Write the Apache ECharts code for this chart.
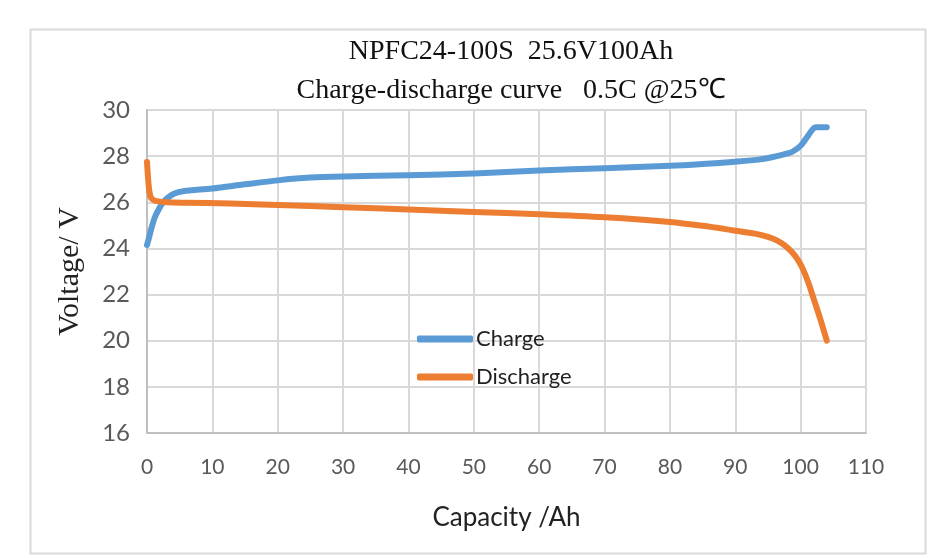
<!DOCTYPE html>
<html>
<head>
<meta charset="utf-8">
<script src="https://cdn.jsdelivr.net/npm/echarts@6/dist/echarts.min.js"></script>
<style>html,body{margin:0;padding:0;background:#fff;}#c{width:941px;height:558px;}</style>
</head>
<body>
<div id="c"></div>
<script>
const titleLines = ["NPFC24-100S  25.6V100Ah", "Charge-discharge curve   0.5C @25\u2103"];
const xName = "Capacity /Ah";
const yName = "Voltage/ V";
const seriesNames = ["Charge", "Discharge"];

const chargeCap = [0, 0.3, 0.7, 1.2, 1.8, 2.4, 3.2, 4.2, 5.5, 10, 15, 20, 25, 30, 40, 50, 60, 70, 80, 85, 90, 93.8, 96, 98, 98.8, 100, 101, 101.8, 102.3, 103, 104];
const chargeV   = [24.15, 24.45, 24.9, 25.35, 25.7, 25.97, 26.2, 26.38, 26.48, 26.6, 26.78, 26.95, 27.07, 27.12, 27.17, 27.25, 27.38, 27.48, 27.58, 27.66, 27.76, 27.86, 27.98, 28.12, 28.2, 28.45, 28.83, 29.15, 29.25, 29.25, 29.25];

const dischargeCap = [0, 0.15, 0.35, 0.6, 1.0, 1.5, 3, 6, 12.7, 20, 30, 40, 50, 60, 70, 80, 85, 90, 93, 95, 96.5, 97.7, 98.8, 99.7, 100.4, 101.2, 101.9, 103, 104];
const dischargeV   = [27.75, 27.1, 26.5, 26.2, 26.1, 26.05, 26.0, 25.98, 25.95, 25.88, 25.79, 25.69, 25.58, 25.48, 25.35, 25.15, 24.98, 24.77, 24.64, 24.5, 24.33, 24.1, 23.8, 23.45, 23.07, 22.5, 21.9, 20.95, 20.0];

const xTicks = {min: 0, max: 110, interval: 10};
const yTicks = {min: 16, max: 30, interval: 2};

function pairs(xs, ys) { return xs.map((x, i) => [x, ys[i]]); }

const chart = echarts.init(document.getElementById('c'), null, {renderer: 'canvas'});
const labelFont = 'Lato';
chart.setOption({
  animation: false,
  backgroundColor: '#fff',
  graphic: [{
    type: 'rect', left: 28, top: 27, shape: {width: 895, height: 524},
    style: {fill: 'none', stroke: '#d9d9d9', lineWidth: 2}, silent: true, z: -1
  }],
  title: {
    text: titleLines.join('\n'),
    left: 506, top: 27, textAlign: 'center',
    textStyle: {fontFamily: 'Liberation Serif', fontSize: 28, fontWeight: 'normal', color: '#111', lineHeight: 39}
  },
  grid: {left: 147, right: 75, top: 110, bottom: 125, containLabel: false},
  legend: {
    orient: 'vertical', left: 412, top: 323, itemGap: 16,
    icon: 'roundRect', itemWidth: 56, itemHeight: 7,
    textStyle: {fontFamily: labelFont, fontSize: 22, color: '#222', padding: [0, 0, 0, -2]},
    data: seriesNames
  },
  xAxis: {
    type: 'value', min: xTicks.min, max: xTicks.max, interval: xTicks.interval,
    name: xName, nameLocation: 'middle', nameGap: 72,
    nameTextStyle: {fontFamily: labelFont, fontSize: 26, color: '#222'},
    axisLine: {lineStyle: {color: '#bfbfbf', width: 2}},
    axisTick: {show: false},
    axisLabel: {fontFamily: labelFont, fontSize: 21, color: '#595959', margin: 24},
    splitLine: {show: true, lineStyle: {color: '#d9d9d9', width: 2}}
  },
  yAxis: {
    type: 'value', min: yTicks.min, max: yTicks.max, interval: yTicks.interval,
    name: yName, nameLocation: 'middle', nameGap: 62,
    nameTextStyle: {fontFamily: 'Liberation Serif', fontSize: 30, color: '#222'},
    axisLine: {show: true, lineStyle: {color: '#bfbfbf', width: 2}},
    axisTick: {show: false},
    axisLabel: {fontFamily: labelFont, fontSize: 24, color: '#595959', margin: 17},
    splitLine: {show: true, lineStyle: {color: '#d9d9d9', width: 2}}
  },
  series: [
    {name: seriesNames[0], type: 'line', data: pairs(chargeCap, chargeV), smooth: 0.3, showSymbol: false,
     symbol: 'none', color: '#5b9bd5', lineStyle: {width: 6, cap: 'round', join: 'round'}},
    {name: seriesNames[1], type: 'line', data: pairs(dischargeCap, dischargeV), smooth: 0.3, showSymbol: false,
     symbol: 'none', color: '#ed7d31', lineStyle: {width: 6, cap: 'round', join: 'round'}}
  ]
});
</script>
</body>
</html>
